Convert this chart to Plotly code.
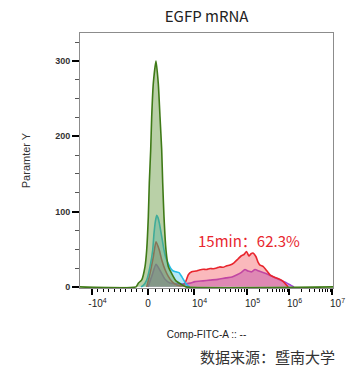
import numpy as np
import plotly.graph_objects as go

# ---------------- data (x in display channels 0-1000 of the biexponential axis, y = counts) -------------
green_x = [0, 221.3, 230.4, 243.9, 256.9, 263.6, 270.0, 273.9, 279.4, 283.4, 289.7, 300.4, 309.5, 316.2,
           322.9, 326.9, 332.0, 339.9, 349.0, 368.8, 379.4, 402.0, 419.0, 1000]
green_y = [0, 0, 4.9, 9.3, 27, 49, 93, 138, 182, 226, 270, 300, 270, 226,
           182, 138, 93, 49, 27, 13.7, 8, 3, 0, 0]

cyan_x = [241.1, 250.2, 263.6, 276.7, 287.4, 292.5, 298.4, 303.2, 308.3, 313.4, 322.9, 332.0, 339.9,
          349.0, 359.7, 368.8, 379.4, 391.3, 403.2, 415.0, 428.1, 434.8]
cyan_y = [0, 2, 9, 27, 49, 71, 88, 95, 92, 85, 67, 49, 38,
          31, 24, 21, 20, 19, 13, 6, 1, 0]

red_x = [263.6, 276.7, 289.7, 300.4, 313.4, 322.9, 335.9, 349.0, 363.6, 379.4, 395.3, 407.1, 419.0,
         428.1, 441.5, 458.5, 472.0, 487.4, 500.0, 513.8, 527.0, 540.3, 552.0, 565.2, 580.0, 592.9,
         608.7, 624.5, 636.4, 648.2, 658.1, 668.0, 675.9, 683.8, 695.7, 703.6, 711.5, 724.5, 739.1,
         751.0, 770.8, 790.5, 803.6, 814.2, 823.3]
red_y = [0, 18, 40, 60, 49, 36, 23, 14, 7, 3, 1.5, 2, 8,
         16, 20, 21, 22.5, 23.5, 23, 24.5, 24, 25, 26.5, 26, 28, 29,
         32, 37, 41, 43, 47, 41, 44, 45, 40, 33, 29, 27, 21,
         16, 12.5, 10, 7, 3, 0]

purple_x = [268.8, 284.6, 300.4, 316.2, 335.9, 355.7, 383.4, 407.1, 434.8, 454.5, 486.2, 513.8, 545.5,
            577.1, 600.8, 620.6, 636.4, 652.2, 664.0, 678.7, 691.7, 707.5, 723.3, 739.1, 758.9, 778.7,
            798.4, 818.2, 834.0, 845.8]
purple_y = [0, 15, 30, 22, 10, 5, 4, 4, 5, 7, 8, 9, 10,
            12, 13, 16, 19, 23, 21, 20, 23, 21, 19, 17, 14, 11,
            8, 5, 2, 0]

# biexponential axis definition: decade values and the display channel each one sits at
axis_values = [-1e4, 0, 1e4, 1e5, 1e6, 1e7]
axis_channels = [47.4, 268.8, 450.6, 660.1, 826.1, 996.0]
axis_labels = ["-10<sup>4</sup>", "0", "10<sup>4</sup>", "10<sup>5</sup>", "10<sup>6</sup>", "10<sup>7</sup>"]
WIDTH_BASIS = 3000.0


def biex(v):
    v = np.asarray(v, dtype=float)
    neg = axis_channels[1] + v / 1e4 * (axis_channels[1] - axis_channels[0])
    U = np.arcsinh(np.array(axis_values[1:]) / WIDTH_BASIS)
    pos = np.interp(np.arcsinh(np.maximum(v, 0) / WIDTH_BASIS), U, axis_channels[1:])
    return np.where(v < 0, neg, pos)


major_vals = biex(axis_values).tolist()
nb = "\u00a0"
tick_text = [(nb * 4 + t) if "sup" in t else t for t in axis_labels]

minor_values = [-k * 1000 for k in range(1, 10)] + [k * 1000 for k in range(1, 10)]
for dec in (1e4, 1e5, 1e6):
    minor_values += [k * dec for k in range(2, 10)]
minor_vals = biex(minor_values).tolist()

fig = go.Figure()


def add(x, y, line, fill):
    fig.add_trace(go.Scatter(x=x, y=y, mode="lines", fill="tozeroy", fillcolor=fill,
                             line=dict(color=line, width=1.6, shape="spline", smoothing=0.5),
                             hoverinfo="skip", showlegend=False))


add(purple_x, purple_y, "#a446d6", "rgba(150,70,225,0.42)")
add(red_x, red_y, "#e8262e", "rgba(242,70,80,0.38)")
add(cyan_x, cyan_y, "#25bde6", "rgba(40,190,232,0.35)")
add(green_x, green_y, "#3f7a17", "rgba(100,150,60,0.45)")

fig.add_annotation(x=float(biex(1e5)) + 6, y=62, xref="x", yref="y", showarrow=False,
                   text="15min：62.3%", font=dict(family="Noto Sans CJK SC", size=15, color="#e8262e"))
fig.add_annotation(x=1.016, y=-0.27, xref="paper", yref="paper", showarrow=False,
                   text="数据来源：暨南大学", xanchor="right", yanchor="middle",
                   font=dict(family="Noto Sans CJK SC", size=15, color="#333333"))

fig.update_layout(
    width=358, height=372,
    margin=dict(l=80, r=25, t=33, b=84, autoexpand=False),
    paper_bgcolor="white", plot_bgcolor="white",
    title=dict(text="EGFP mRNA", x=0.577, xanchor="center", y=0.955, yanchor="middle",
               font=dict(family="Noto Sans CJK SC", size=15, color="#222222")),
    xaxis=dict(range=[0, 1000], tickmode="array", tickvals=major_vals, ticktext=tick_text,
               automargin=False,
               ticks="outside", ticklen=6, tickwidth=2, tickcolor="black",
               showline=True, linecolor="#8c8c8c", linewidth=1, mirror=True,
               showgrid=False, zeroline=False,
               tickfont=dict(family="Liberation Sans", size=10, color="#222222"),
               minor=dict(tickmode="array", tickvals=minor_vals, ticks="outside", ticklen=3,
                          tickwidth=1, tickcolor="black", showgrid=False),
               title=dict(text="Comp-FITC-A :: --", standoff=22,
                          font=dict(family="Liberation Sans", size=10, color="#222222"))),
    yaxis=dict(range=[-1.5, 337.2], tickmode="array", tickvals=[0, 100, 200, 300],
               automargin=False,
               ticks="outside", ticklen=7, tickwidth=2, tickcolor="black",
               showline=True, linecolor="#8c8c8c", linewidth=1, mirror=True,
               showgrid=False, zeroline=False,
               tickfont=dict(family="Liberation Sans", size=9, color="#333333", weight="bold"),
               minor=dict(tick0=0, dtick=25, ticks="outside", ticklen=4, tickwidth=1,
                          tickcolor="#555555", showgrid=False),
               title=dict(text="Paramter Y", standoff=22,
                          font=dict(family="Liberation Sans", size=11, color="#333333"))),
)

fig.write_html("out.html", config={"displayModeBar": False},
               post_script="document.body.style.margin='0px';")
